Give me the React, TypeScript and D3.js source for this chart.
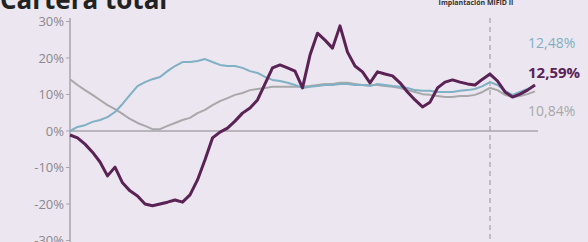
import React from "react";
import * as d3 from "d3";

// rentabilidad acumulada (%), una observación por periodo
const carteraTotal = [
  -1.1, -1.9, -3.6, -5.8, -8.5, -12.3, -9.9, -14.2, -16.4, -17.8,
  -20, -20.5, -20, -19.5, -18.9, -19.5, -17.5, -13.4, -7.9, -1.9,
  -0.3, 0.8, 2.7, 4.9, 6.3, 8.5, 12.9, 17.3, 18.1, 17.3,
  16.4, 11.8, 20.8, 26.8, 24.9, 22.7, 28.8, 21.6, 17.8, 16.2,
  13.2, 16.2, 15.6, 15.1, 13.2, 10.7, 8.5, 6.6, 7.9, 11.8,
  13.4, 14, 13.4, 12.9, 12.6, 14.2, 15.6, 13.7, 10.7, 9.3,
  10.1, 11.2, 12.59,
];
const serieAzul = [
  0, 1.1, 1.6, 2.5, 3.0, 3.8, 5.2, 7.4, 9.9, 12.3,
  13.4, 14.2, 14.8, 16.4, 17.8, 18.9, 18.9, 19.2, 19.7, 18.9,
  18.1, 17.8, 17.8, 17.3, 16.4, 15.9, 14.8, 14.0, 13.7, 13.2,
  12.6, 11.8, 12.1, 12.3, 12.6, 12.6, 12.9, 12.9, 12.6, 12.6,
  12.3, 12.9, 12.6, 12.3, 12.1, 11.8, 11.2, 11.0, 11.0, 10.7,
  10.7, 10.7, 11.0, 11.2, 11.5, 12.3, 13.4, 12.6, 11.0, 9.9,
  10.7, 11.5, 12.48,
];
const serieGris = [
  14.2, 12.6, 11.2, 9.9, 8.5, 7.1, 6.0, 4.7, 3.3, 2.2,
  1.4, 0.5, 0.5, 1.4, 2.2, 3.0, 3.6, 4.9, 5.8, 7.1,
  8.2, 9.0, 9.9, 10.4, 11.2, 11.5, 11.8, 12.1, 12.1, 12.1,
  12.1, 12.1, 12.3, 12.6, 12.9, 12.9, 13.2, 13.2, 12.9, 12.6,
  12.6, 12.6, 12.3, 12.1, 11.8, 11.2, 10.7, 10.1, 9.9, 9.6,
  9.3, 9.3, 9.6, 9.6, 9.9, 10.7, 11.8, 11.2, 9.9, 9.3,
  9.6, 10.1, 10.84,
];
const yTicks = [30, 20, 10, 0, -10, -20, -30];
const markerIndex = 56;
const endLabels = ["12,48%", "12,59%", "10,84%"];

const W = 588;
const H = 242;

export default function App() {
  const x = d3.scaleLinear().domain([0, carteraTotal.length - 1]).range([70, 535]);
  const y = d3.scaleLinear().domain([-30, 30]).range([240.5, 21.5]);
  const line = d3
    .line<number>()
    .x((d, i) => x(i))
    .y((d) => y(d));

  const tickFmt = (v: number) => `${v}%`;

  return (
    <div style={{ position: "absolute", left: 0, top: 0 }}>
      <svg width={W} height={H} style={{ display: "block" }} fontFamily="'Liberation Sans Narrow', 'Open Sans', sans-serif">
        <rect width={W} height={H} fill="#ebe6ef" />

        {/* título, cortado arriba */}
        <text x={0} y={9} fontFamily="'Open Sans', sans-serif" fontWeight={700} fontSize={26} fill="#222">
          Cartera total
        </text>

        {/* anotación sobre la línea discontinua */}
        <text x={x(markerIndex) - 14} y={5} textAnchor="middle" fontSize={7} fontWeight={700} fill="#333"
          fontFamily="'Open Sans', sans-serif">
          Implantación MiFID II
        </text>

        {/* eje y */}
        <line x1={70} x2={70} y1={18} y2={H} stroke="#a9a3ad" strokeWidth={1.5} />
        {yTicks.map((t) => (
          <g key={t}>
            <line x1={66} x2={70} y1={y(t)} y2={y(t)} stroke="#a9a3ad" />
            <text x={64} y={y(t)} dy="0.35em" textAnchor="end" fontSize={13} fill="#8c8890">
              {tickFmt(t)}
            </text>
          </g>
        ))}

        {/* línea de cero */}
        <line x1={70} x2={538} y1={y(0)} y2={y(0)} stroke="#aaa3ab" strokeWidth={1.5} />

        {/* marca vertical */}
        <line x1={x(markerIndex)} x2={x(markerIndex)} y1={18} y2={H} stroke="#a4a0aa"
          strokeWidth={1.2} strokeDasharray="5,4" />

        <path d={line(serieGris) ?? ""} fill="none" stroke="#a8a8aa" strokeWidth={2} strokeLinejoin="round" />
        <path d={line(serieAzul) ?? ""} fill="none" stroke="#7fb0c4" strokeWidth={2} strokeLinejoin="round" />
        <path d={line(carteraTotal) ?? ""} fill="none" stroke="#5a2255" strokeWidth={3} strokeLinejoin="round" />

        {/* etiquetas finales */}
        <text x={528} y={48} fontSize={14} fill="#7fb0c4" fontFamily="'Open Sans', sans-serif">{endLabels[0]}</text>
        <text x={528} y={78} fontSize={15} fontWeight={700} fill="#5a2255" fontFamily="'Open Sans', sans-serif">{endLabels[1]}</text>
        <text x={528} y={116} fontSize={14} fill="#a8a8aa" fontFamily="'Open Sans', sans-serif">{endLabels[2]}</text>
      </svg>
    </div>
  );
}
